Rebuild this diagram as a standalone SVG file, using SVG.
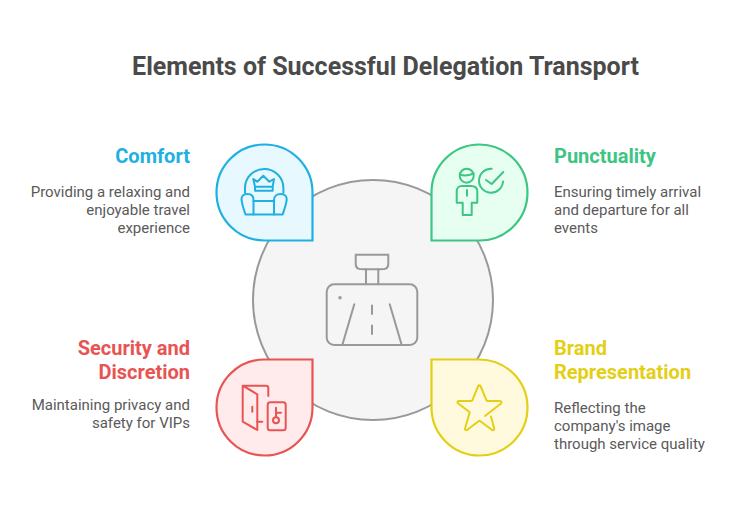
<svg xmlns="http://www.w3.org/2000/svg" width="732" height="509" viewBox="0 0 732 509">
<style>
text{font-family:Roboto,"Liberation Sans",sans-serif}
.title{font-size:25px;font-weight:700;fill:#4a4a4a}
.h{font-size:20px;font-weight:700}
.b{font-size:15px;fill:#5a5a5a}
.e{text-anchor:end}
.i{fill:none;stroke-width:2;stroke-linecap:round;stroke-linejoin:round}
.blob{stroke-width:2.2}
</style>
<rect width="732" height="509" fill="#fff"/>
<text class="title" x="385.500" y="74.500" text-anchor="middle">Elements of Successful Delegation Transport</text>
<g id="center">
<circle cx="373" cy="300" r="120" fill="#f5f5f5" stroke="#999" stroke-width="2"/>
<g class="i" stroke="#999">
<path d="M355.700 254.700H388.300V263.500C388.300 270 384 269.300 378 269.300H366C360 269.300 355.700 270 355.700 263.500Z"/>
<path d="M366 269.300V284.300M378.300 269.300V284.300"/>
<rect x="326.700" y="284.300" width="90.600" height="60.700" rx="7.500"/>
<circle cx="340" cy="297.700" r="0.800"/>
<path d="M354.300 304.300L342.300 345M389.700 304.300L401.700 345M372 305.500V314M372 325.500V334"/>
</g>
</g>
<g id="comfort">
<path class="blob" d="M264.500 144.500A48 48 0 0 1 312.500 192.500V240.500H264.500A48 48 0 0 1 264.500 144.500Z" fill="#e8f8ff" stroke="#1eb0e0"/>
<g class="i" stroke="#1eb0e0">
<path d="M245 193V188A19.200 19 0 0 1 283.400 188V193"/>
<path d="M253.500 214.500H245.500C243 207 241.500 203 241.500 199C241.500 196 244 194 247.500 194C251 194 253.500 196 253.500 200Z"/>
<path d="M274 214.500H282.700C285 207 286.700 203 286.700 199C286.700 196 284 194 280.500 194C277 194 274 196 274 200Z"/>
<path d="M253.500 201H274M253.500 214.500H274"/>
<path d="M255 186.700L253.300 179L257.300 181.700L263.300 175.700L269.300 181.700L274 179L272.700 186.700ZM255 186.700V190.700H272.700V186.700"/>
</g>
<text class="h e" x="190" y="163" fill="#1eb0e0">Comfort</text>
<text class="b e" x="190" y="197">Providing a relaxing and</text>
<text class="b e" x="190" y="215">enjoyable travel</text>
<text class="b e" x="190" y="233">experience</text>
</g>
<g id="punctuality">
<path class="blob" d="M479.500 144.500A48 48 0 0 1 479.500 240.500H431.500V192.500A48 48 0 0 1 479.500 144.500Z" fill="#e6fff1" stroke="#3cc583"/>
<g class="i" stroke="#3cc583">
<circle cx="466.700" cy="175.700" r="7"/>
<path d="M460 174.500C464 176 469 175.500 473.500 173.500"/>
<path d="M462 186H471.500C474.500 186 477.300 188 477.300 191V202.700H471.700V215H462.700V202.700H456.700V191C456.700 188 459 186 462 186Z"/>
<path d="M467 190V195.700"/>
<path d="M491.700 168.700A12 12 0 1 0 503 181.500"/>
<path d="M486 180L491.700 184L503.300 172"/>
</g>
<text class="h" x="554" y="163" fill="#3cc583">Punctuality</text>
<text class="b" x="554" y="197">Ensuring timely arrival</text>
<text class="b" x="554" y="215">and departure for all</text>
<text class="b" x="554" y="233">events</text>
</g>
<g id="security">
<path class="blob" d="M264.500 359.500H312.500V407.500A48 48 0 0 1 216.500 407.500A48 48 0 0 1 264.500 359.500Z" fill="#ffebeb" stroke="#e85454"/>
<g class="i" stroke="#e85454">
<path d="M268.300 396V388C268.300 386 267 385.700 265.700 385.700H242.700V421.700L257.300 430V394.300L242.700 385.700"/>
<path d="M252.300 406.700V411.700M257.300 421.700H262.300"/>
<rect x="267.700" y="402.300" width="18" height="28" rx="2.500"/>
<circle cx="276" cy="420.300" r="3"/>
<path d="M276 417.300V407.700M276 412.700H281"/>
</g>
<text class="h e" x="190" y="355" fill="#e85454">Security and</text>
<text class="h e" x="190" y="379" fill="#e85454">Discretion</text>
<text class="b e" x="190" y="410">Maintaining privacy and</text>
<text class="b e" x="190" y="428">safety for VIPs</text>
</g>
<g id="brand">
<path class="blob" d="M431.500 359.500H479.500A48 48 0 0 1 479.500 455.500A48 48 0 0 1 431.500 407.500Z" fill="#fffadd" stroke="#e4cf17"/>
<path class="i" stroke="#e4cf17" d="M485 416L501 403.500C502 402.500 501.500 401 500 401H487.500C487 401 486.700 400.700 486.500 400.300L480.500 386C480 385 478.700 385 478.200 386L472.300 400.300C472 400.700 471.700 401 471 401H459C457.500 401 457 402.500 458 403.300L469.700 412.300L465 428.500C464.700 430 466 430.500 467 430L479.500 420.500L492 430C493 430.500 494.500 430 494.200 428.500L491 416.500"/>
<text class="h" x="554" y="355" fill="#e4cf17">Brand</text>
<text class="h" x="554" y="379" fill="#e4cf17">Representation</text>
<text class="b" x="554" y="413">Reflecting the</text>
<text class="b" x="554" y="431">company's image</text>
<text class="b" x="554" y="449">through service quality</text>
</g>
</svg>
